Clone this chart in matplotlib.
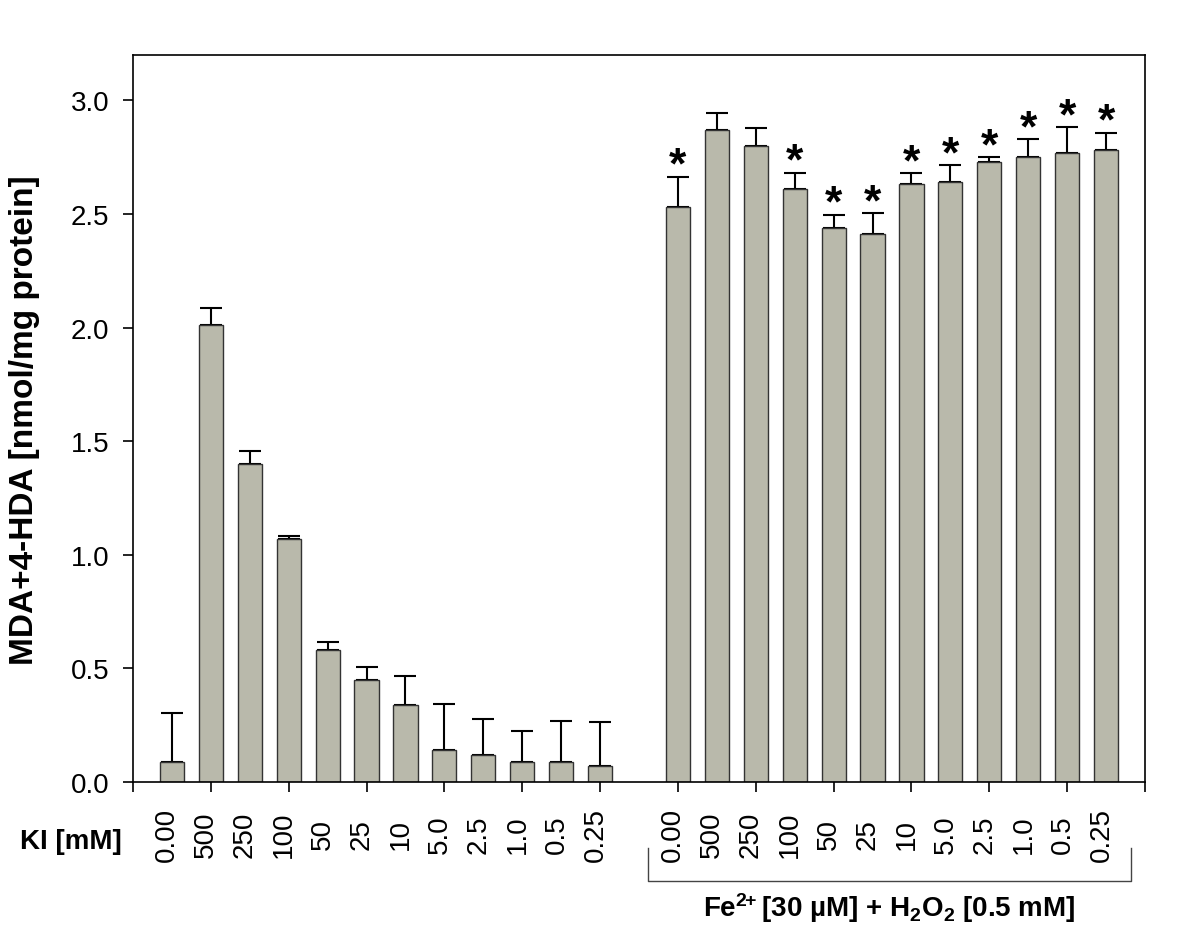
import numpy as np
import matplotlib.pyplot as plt
from matplotlib.lines import Line2D

plt.rcParams['font.family'] = ['Liberation Sans', 'DejaVu Sans']
plt.rcParams['mathtext.fontset'] = 'custom'
plt.rcParams['mathtext.rm'] = 'Liberation Sans:bold'
plt.rcParams['mathtext.bf'] = 'Liberation Sans:bold'
plt.rcParams['mathtext.it'] = 'Liberation Sans:bold'

# KI concentrations [mM], same order for both groups
conc_labels = ['0.00', '500', '250', '100', '50', '25', '10', '5.0', '2.5', '1.0', '0.5', '0.25']

# KI alone
ki_mean = [0.09, 2.01, 1.40, 1.07, 0.58, 0.45, 0.34, 0.14, 0.12, 0.09, 0.09, 0.07]
ki_err = [0.215, 0.075, 0.055, 0.013, 0.037, 0.056, 0.128, 0.205, 0.156, 0.136, 0.179, 0.194]

# KI + Fe2+ + H2O2
fe_mean = [2.53, 2.87, 2.80, 2.61, 2.44, 2.41, 2.63, 2.64, 2.73, 2.75, 2.77, 2.78]
fe_err = [0.135, 0.073, 0.080, 0.072, 0.057, 0.094, 0.050, 0.075, 0.022, 0.079, 0.114, 0.078]
fe_sig = [True, False, False, True, True, True, True, True, True, True, True, True]

n = len(conc_labels)
x1 = np.arange(n)
x2 = np.arange(n) + n + 1

fig = plt.figure(figsize=(12, 9.29), dpi=100)
ax = fig.add_axes([133 / 1200, 1 - 783 / 929, 1012 / 1200, 727 / 929])

bar_kw = dict(width=0.62, color='#b9b9ab', edgecolor='#333333', linewidth=1.0, zorder=2)
err_kw = dict(fmt='none', ecolor='black', elinewidth=1.5, capsize=8, capthick=1.5, zorder=1)

ax.bar(x1, ki_mean, **bar_kw)
ax.bar(x2, fe_mean, **bar_kw)
ax.errorbar(x1, ki_mean, yerr=[np.zeros(n), ki_err], **err_kw)
ax.errorbar(x2, fe_mean, yerr=[np.zeros(n), fe_err], **err_kw)

for xi, m, e, s in zip(x2, fe_mean, fe_err, fe_sig):
    if s:
        ax.text(xi, m + e - 0.005, '*', ha='center', va='baseline',
                fontsize=32, fontweight='bold')

ax.set_xlim(-1, 2 * n + 1)
ax.set_ylim(0, 3.2)
ax.set_yticks(np.arange(0, 3.01, 0.5))
ax.set_yticklabels(['%.1f' % v for v in np.arange(0, 3.01, 0.5)])
ax.set_xticks(np.arange(-1, 2 * n + 2, 2))
ax.set_xticklabels([])
ax.tick_params(direction='out', length=7, width=1.2, labelsize=20, pad=10)
for sp in ax.spines.values():
    sp.set_linewidth(1.2)

# concentration labels under each bar
trans = ax.get_xaxis_transform()
for xs in (x1, x2):
    for xi, lab in zip(xs, conc_labels):
        ax.text(xi - 0.12, -0.071, lab, rotation=90, ha='center', va='center',
                fontsize=20, transform=trans)

# bracket under the second group
bx0 = x2[0] - 0.78
bx1 = x2[-1] + 0.64
ax.add_line(Line2D([bx0, bx0, bx1, bx1], [-0.091, -0.136, -0.136, -0.091],
                   transform=trans, color='#444444', lw=1.0, clip_on=False))
ax.text((bx0 + bx1) / 2, -0.172, r'Fe$^{2\!\!+\!\!}$ [30 µM] + H$_2$O$_2$ [0.5 mM]',
        ha='center', va='center', fontsize=20, fontweight='bold', transform=trans)

fig.text(71 / 1200, 1 - 842 / 929, 'KI [mM]', ha='center', va='center',
         fontsize=20, fontweight='bold')
fig.text(25 / 1200, 1 - 420 / 929, 'MDA+4-HDA [nmol/mg protein]', rotation=90,
         ha='center', va='center', fontsize=24, fontweight='bold')

fig.savefig('out.png', dpi=100)
